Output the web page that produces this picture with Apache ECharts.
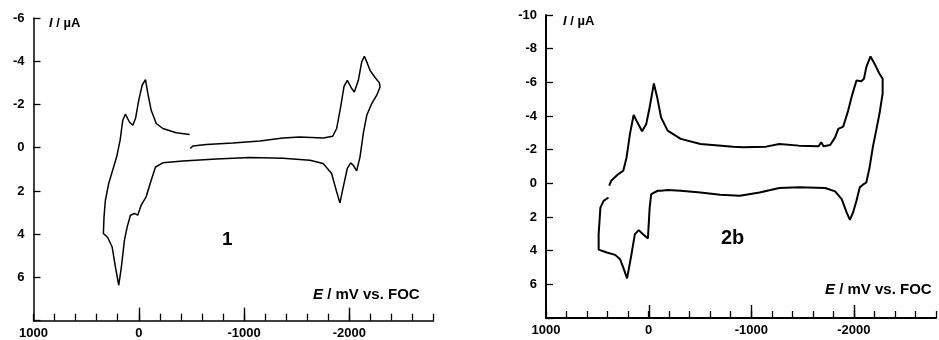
<!DOCTYPE html>
<html>
<head>
<meta charset="utf-8">
<script src="https://cdn.jsdelivr.net/npm/echarts@6/dist/echarts.min.js"></script>
<style>
html,body{margin:0;padding:0;background:#fff;}
#c{width:939px;height:340px;}
</style>
</head>
<body>
<div id="c"></div>
<script>
// ---- Data: compound 1 (E in mV vs. FOC, I in µA) ----
var cv1_E = [-483,-356,-229,-166,-118,-86,-64,-32,0,31,57,89,127,152,177,210,248,286,317,330,336,295,253,222,190,165,136,110,79,41,10,-23,-70,-118,-159,-229,-419,-737,-1054,-1371,-1626,-1752,-1832,-1880,-1911,-1943,-1981,-2013,-2038,-2070,-2102,-2133,-2166,-2213,-2261,-2292,-2286,-2245,-2197,-2166,-2143,-2118,-2086,-2048,-2023,-1981,-1950,-1918,-1880,-1842,-1752,-1530,-1371,-1150,-895,-642,-514,-490];
var cv1_I = [-0.61,-0.69,-0.89,-1.12,-1.73,-2.51,-3.15,-2.89,-2.20,-1.35,-1.04,-1.19,-1.55,-1.27,-0.35,0.42,1.04,1.66,2.43,3.2,3.97,4.15,4.59,5.51,6.36,5.51,4.28,3.66,3.12,3.04,3.12,2.66,2.27,1.50,0.89,0.70,0.61,0.52,0.45,0.49,0.58,0.73,1.19,2.04,2.55,1.81,0.96,0.70,0.81,1.07,0.42,-0.66,-1.50,-2.04,-2.43,-2.81,-3.0,-3.25,-3.58,-3.97,-4.23,-3.97,-3.12,-2.58,-2.74,-3.12,-2.84,-1.89,-0.89,-0.53,-0.45,-0.50,-0.45,-0.31,-0.22,-0.15,-0.08,0.04];

// ---- Data: compound 2b ----
var cv2b_E = [384,365,295,247,215,182,146,119,64,23,-10,-51,-83,-121,-185,-313,-505,-825,-921,-1145,-1273,-1465,-1656,-1682,-1704,-1769,-1817,-1848,-1896,-1944,-1977,-2025,-2073,-2098,-2121,-2162,-2201,-2249,-2280,-2280,-2249,-2217,-2184,-2153,-2121,-2088,-2057,-2025,-1992,-1961,-1929,-1881,-1817,-1721,-1465,-1273,-1081,-889,-697,-505,-313,-185,-121,-89,-25,-10,7,55,96,134,167,210,247,278,326,407,487,487,470,439,391];
var cv2b_I = [0.14,-0.15,-0.55,-0.75,-1.54,-2.94,-4.06,-3.73,-3.09,-3.53,-4.52,-5.93,-5.12,-3.92,-3.13,-2.64,-2.34,-2.18,-2.14,-2.18,-2.34,-2.24,-2.2,-2.44,-2.2,-2.28,-2.73,-3.23,-3.37,-4.32,-5.12,-6.11,-6.07,-6.21,-6.9,-7.54,-7.11,-6.51,-6.21,-5.32,-4.13,-3.13,-2.14,-0.95,-0.05,0.08,0.24,1.04,1.73,2.17,1.73,0.94,0.48,0.28,0.24,0.28,0.54,0.74,0.68,0.54,0.44,0.40,0.44,0.44,0.64,1.44,3.27,3.02,2.78,3.02,4.21,5.65,5.01,4.51,4.25,4.11,3.94,3.02,1.44,1.04,0.84];

// ---- Axis ticks / labels ----
var xMajorTicks = [0, -1000, -2000];
var y1Range = [-6, 8];
var y2Range = [-10, 8];
var xRange = [-2800, 1000];
var panelLabels = ['1', '2b'];

function zip(a, b) { return a.map(function (v, i) { return [v, b[i]]; }); }

var FONT = '"Liberation Sans", Arial, sans-serif';
var labelStyle = { color: '#000', fontWeight: 'bold', fontSize: 13, fontFamily: FONT };

var grids = [
  { left: 33.5, top: 18, width: 400, height: 302.7 },
  { left: 546, top: 15, width: 396, height: 303 }
];

function xAx(grid, w) {
  return {
    type: 'value', gridIndex: grid, position: 'bottom', inverse: true, min: xRange[0], max: xRange[1], interval: 200,
    axisLine: { show: true, onZero: false, lineStyle: { color: '#000', width: w } },
    axisTick: { show: true, inside: true, length: 7, lineStyle: { color: '#000', width: 1.3 } },
    splitLine: { show: false },
    axisLabel: Object.assign({ margin: 6, formatter: function (v) { return (v % 1000 === 0 && v > -2800) ? String(v) : ''; } }, labelStyle)
  };
}
function yAx(grid, r, w) {
  return {
    type: 'value', gridIndex: grid, position: 'left', inverse: true, min: r[0], max: r[1], interval: 2,
    axisLine: { show: true, onZero: false, lineStyle: { color: '#000', width: w } },
    axisTick: { show: true, inside: true, length: 7, lineStyle: { color: '#000', width: 1.3 } },
    splitLine: { show: false },
    axisLabel: Object.assign({ margin: 9, formatter: function (v) { return v === r[1] ? '' : String(v); } }, labelStyle)
  };
}

var textEls = [
  { type: 'text', left: 49, top: 17, style: { text: '{i|I} / µA', rich: { i: { fontStyle: 'italic', fontWeight: 'bold', fontSize: 13, fontFamily: FONT, fill: '#000' } }, fontSize: 13, fontWeight: 'bold', fontFamily: FONT, fill: '#000' } },
  { type: 'text', left: 563, top: 15, style: { text: '{i|I} / µA', rich: { i: { fontStyle: 'italic', fontWeight: 'bold', fontSize: 13, fontFamily: FONT, fill: '#000' } }, fontSize: 13, fontWeight: 'bold', fontFamily: FONT, fill: '#000' } },
  { type: 'text', left: 313, top: 287, style: { text: '{i|E} / mV vs. FOC', rich: { i: { fontStyle: 'italic', fontWeight: 'bold', fontSize: 15, fontFamily: FONT, fill: '#000' } }, fontSize: 15, fontWeight: 'bold', fontFamily: FONT, fill: '#000' } },
  { type: 'text', left: 825, top: 282, style: { text: '{i|E} / mV vs. FOC', rich: { i: { fontStyle: 'italic', fontWeight: 'bold', fontSize: 15, fontFamily: FONT, fill: '#000' } }, fontSize: 15, fontWeight: 'bold', fontFamily: FONT, fill: '#000' } },
  { type: 'text', left: 222, top: 230, style: { text: panelLabels[0], fontSize: 19, fontWeight: 'bold', fontFamily: FONT, fill: '#000' } },
  { type: 'text', left: 721, top: 228, style: { text: panelLabels[1], fontSize: 20, fontWeight: 'bold', fontFamily: FONT, fill: '#000' } }
];

var chart = echarts.init(document.getElementById('c'));
chart.setOption({
  animation: false,
  backgroundColor: '#fff',
  grid: grids,
  xAxis: [xAx(0, 1.5), xAx(1, 2)],
  yAxis: [yAx(0, y1Range, 1.5), yAx(1, y2Range, 2)],
  series: [
    { type: 'line', xAxisIndex: 0, yAxisIndex: 0, data: zip(cv1_E, cv1_I), showSymbol: false, symbol: 'none',
      lineStyle: { color: '#000', width: 1.5 }, clip: false },
    { type: 'line', xAxisIndex: 1, yAxisIndex: 1, data: zip(cv2b_E, cv2b_I), showSymbol: false, symbol: 'none',
      lineStyle: { color: '#000', width: 2 }, clip: false }
  ],
  graphic: textEls
});

// taller major ticks on the bottom axis lines, positioned through the axis scales
var tickEls = [];
[[0, y1Range[1]], [1, y2Range[1]]].forEach(function (g) {
  xMajorTicks.forEach(function (v) {
    var p = chart.convertToPixel({ xAxisIndex: g[0], yAxisIndex: g[0] }, [v, g[1]]);
    tickEls.push({ type: 'line', z: 10, shape: { x1: Math.round(p[0]) + 0.5, y1: p[1], x2: Math.round(p[0]) + 0.5, y2: p[1] - 13 },
      style: { stroke: '#000', lineWidth: 1.4 } });
  });
});
chart.setOption({ graphic: textEls.concat(tickEls) });
</script>
</body>
</html>
